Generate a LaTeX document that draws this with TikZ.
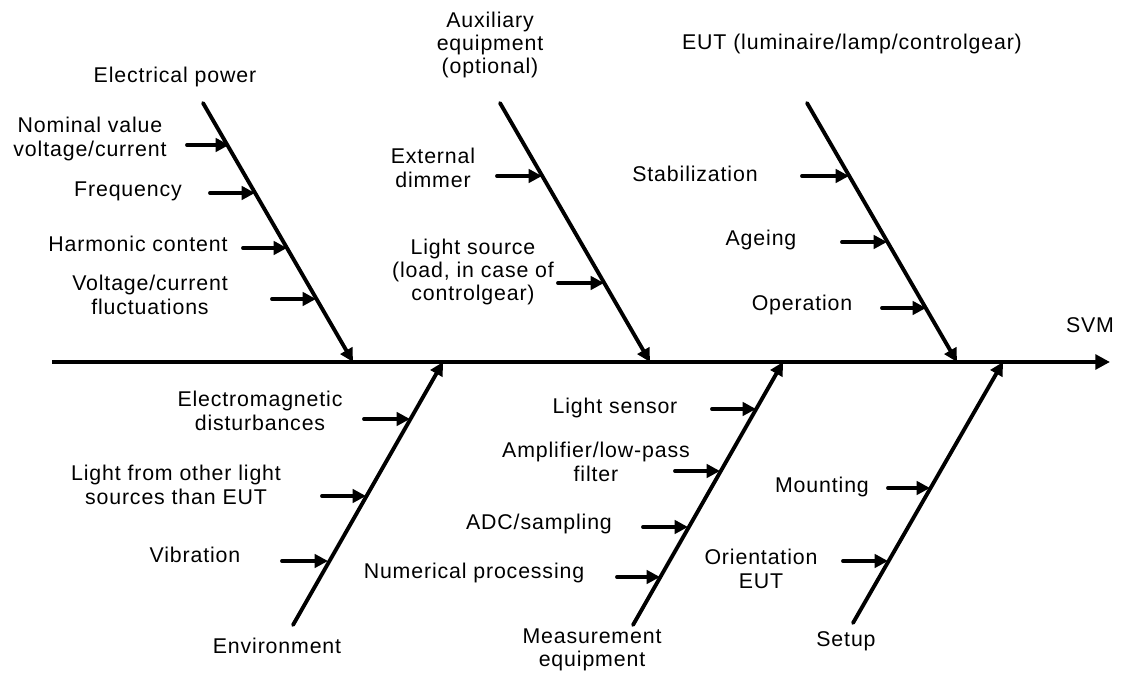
\documentclass[tikz,border=0pt]{standalone}
\usepackage{fontspec}
\setmainfont[LetterSpace=4]{Liberation Sans}
\usetikzlibrary{arrows.meta}
\begin{document}
\begin{tikzpicture}[x=0.75pt,y=-0.75pt,
  bone/.style={line width=2.9pt,line cap=round,-{Triangle[length=10pt,width=10pt]}},
  twig/.style={line width=2.9pt,line cap=round,-{Triangle[length=10pt,width=10pt]}},
  spine/.style={line width=2.9pt,-{Triangle[length=11pt,width=11pt]}},
  lab/.style={font=\fontsize{16}{17.5}\selectfont,align=center,inner sep=0pt}]
\useasboundingbox (0,0) rectangle (1125,680);
% spine
\coordinate (s0) at (52,362);
\coordinate (s1) at (1110,362);
\draw[spine] (s0) -- (s1);
% bones
\coordinate (b1s) at (203,103); \coordinate (b1e) at (353,362);
\coordinate (b2s) at (500,103); \coordinate (b2e) at (650,362);
\coordinate (b3s) at (807,103); \coordinate (b3e) at (957,362);
\coordinate (b4s) at (293,625); \coordinate (b4e) at (443,362);
\coordinate (b5s) at (633,625); \coordinate (b5e) at (783,362);
\coordinate (b6s) at (853,623); \coordinate (b6e) at (1003,362);
\foreach \i in {1,...,6} \draw[bone] (b\i s) -- (b\i e);
% twig coordinates (start/end)
\coordinate (t11s) at (187,145); \coordinate (t11e) at (229,145);
\coordinate (t12s) at (210,193); \coordinate (t12e) at (255,193);
\coordinate (t13s) at (243,248); \coordinate (t13e) at (287,248);
\coordinate (t14s) at (272,299); \coordinate (t14e) at (316,299);
\coordinate (t21s) at (497,176); \coordinate (t21e) at (542,176);
\coordinate (t22s) at (558,283); \coordinate (t22e) at (604,283);
\coordinate (t31s) at (802,176); \coordinate (t31e) at (849,176);
\coordinate (t32s) at (842,242); \coordinate (t32e) at (887,242);
\coordinate (t33s) at (882,308); \coordinate (t33e) at (926,308);
\coordinate (t41s) at (364,419); \coordinate (t41e) at (410,419);
\coordinate (t42s) at (322,496); \coordinate (t42e) at (366,496);
\coordinate (t43s) at (282,561); \coordinate (t43e) at (328,561);
\coordinate (t51s) at (712,409); \coordinate (t51e) at (756,409);
\coordinate (t52s) at (675,471); \coordinate (t52e) at (720,471);
\coordinate (t53s) at (643,527); \coordinate (t53e) at (688,527);
\coordinate (t54s) at (617,577); \coordinate (t54e) at (660,577);
\coordinate (t61s) at (888,488); \coordinate (t61e) at (930,488);
\coordinate (t62s) at (843,561); \coordinate (t62e) at (888,561);
\foreach \t in {11,12,13,14,21,22,31,32,33,41,42,43,51,52,53,54,61,62}
  \draw[twig] (t\t s) -- (t\t e);
% labels
\node[lab] (Lpow) at (175,77) {Electrical power};
\node[lab] (Laux) at (490,45) {Auxiliary\\equipment\\(optional)};
\node[lab] (Leut) at (852,44) {EUT (luminaire/lamp/controlgear)};
\node[lab] (Lnom) at (90,139) {Nominal value\\voltage/current};
\node[lab] (Lfreq) at (128,191) {Frequency};
\node[lab] (Lharm) at (138,244) {Harmonic content};
\node[lab] (Lfluc) at (150,295) {Voltage/current\\fluctuations};
\node[lab] (Ldim) at (433,168) {External\\dimmer};
\node[lab] (Lls) at (473,272) {Light source\\(load, in case of\\controlgear)};
\node[lab] (Lstab) at (695,174) {Stabilization};
\node[lab] (Lage) at (761,240) {Ageing};
\node[lab] (Lop) at (802,305) {Operation};
\node[lab] (Lsvm) at (1090,325) {SVM};
\node[lab] (Lemd) at (260,411) {Electromagnetic\\disturbances};
\node[lab] (Llight) at (176,485) {Light from other light\\sources than EUT};
\node[lab] (Lvib) at (195,555) {Vibration};
\node[lab] (Lenv) at (277,646) {Environment};
\node[lab] (Lsens) at (615,408) {Light sensor};
\node[lab] (Lamp) at (596,462) {Amplifier/low-pass\\filter};
\node[lab] (Ladc) at (539,524) {ADC/sampling};
\node[lab] (Lnum) at (474,573) {Numerical processing};
\node[lab] (Lmeas) at (592,650) {Measurement\\equipment};
\node[lab] (Lmount) at (822,487) {Mounting};
\node[lab] (Lori) at (761,569) {Orientation\\EUT};
\node[lab] (Lset) at (846,641) {Setup};
\end{tikzpicture}
\end{document}
